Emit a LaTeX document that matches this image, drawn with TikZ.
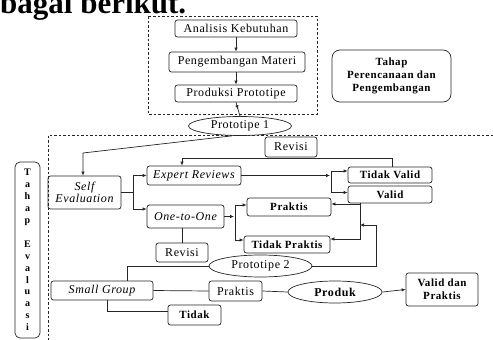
\documentclass[tikz,border=0pt]{standalone}
\usepackage{fontspec}
\setmainfont{Liberation Serif}
\newfontfamily\lsfont[LetterSpace=5]{Liberation Serif}
\usetikzlibrary{shapes.geometric,arrows.meta,decorations.markings}
\begin{document}
\begin{tikzpicture}[x=1pt,y=-1pt,
  wh/.style 2 args={minimum width=#1pt, minimum height=#2pt},
  rbox/.style={draw=black!85, line width=0.7pt, rounded corners=2.5pt, inner sep=0pt, align=center, font=\lsfont\fontsize{12}{13}\selectfont},
  bbox/.style={rbox, font=\lsfont\bfseries\fontsize{11}{13}\selectfont},
  ibox/.style={rbox, font=\lsfont\itshape\fontsize{12}{12.5}\selectfont},
  oval/.style={ellipse, draw=black!85, line width=0.7pt, inner sep=0pt, font=\lsfont\fontsize{12}{13}\selectfont},
  conn/.style={draw=black!85, line width=0.7pt},
  arr/.style={conn, -{Latex[length=4pt,width=3.5pt]}},
  dashedline/.style={draw=black!85, line width=0.7pt, dash pattern=on 2.5pt off 2pt},
  midarrow/.style={conn, decoration={markings, mark=at position #1 with {\arrow{Latex[length=4pt,width=3.5pt]}}}, postaction={decorate}},
]
\useasboundingbox (0,0) rectangle (493,340);
\fill[white] (0,0) rectangle (493,340);

% title fragment
\begin{scope}
\clip (0,0) rectangle (493,340);
\node[anchor=base west, inner sep=0pt, font=\rmfamily\bfseries\fontsize{31}{31}\selectfont] (ttl) at (0,13) {bagai berikut.};
\end{scope}

% dashed frames
\draw[dashedline] (148,16) rectangle (317,114);
\draw[dashedline] (493,135) -- (48,135) -- (48,340);

% planning stage
\node[rbox, wh={122}{17}] (ak) at (236,28.5) {Analisis Kebutuhan};
\node[rbox, wh={136}{20}] (pm) at (237,62) {Pengembangan Materi};
\node[rbox, wh={122}{17}] (pp) at (236,93.5) {Produksi Prototipe};
\node[bbox, rounded corners=8pt, wh={119}{52}] (tpp) at (391.5,76) {Tahap\\Perencanaan dan\\Pengembangan};
\node[oval, wh={103}{19}] (p1) at (240,126) {Prototipe 1};

% evaluation stage
\node[rbox, rounded corners=5pt, wh={25}{176}, font=\rmfamily\bfseries\fontsize{10}{11.9}\selectfont] (te) at (27.5,250) {T\\a\\h\\a\\p\\ \\E\\v\\a\\l\\u\\a\\s\\i};
\node[ibox, wh={73}{33}] (se) at (84.5,192.5) {Self\\Evaluation};
\node[ibox, wh={94}{19}] (er) at (194,175.5) {Expert Reviews};
\node[ibox, wh={77}{23}] (oo) at (185.5,216.5) {One-to-One};
\node[rbox, wh={52}{20}] (rv1) at (291,147) {Revisi};
\node[bbox, wh={84}{16}] (tv) at (390,175) {Tidak Valid};
\node[bbox, wh={84}{17}] (va) at (390,194.5) {Valid};
\node[bbox, wh={84}{18}] (pr1) at (289,207) {Praktis};
\node[bbox, wh={86}{17}] (tp) at (287,244.5) {Tidak Praktis};
\node[rbox, wh={52}{19}] (rv2) at (182,252.5) {Revisi};
\node[oval, wh={103}{22}] (p2) at (260.5,266) {Prototipe 2};
\node[ibox, wh={102}{19}] (sg) at (102,290.5) {Small Group};
\node[rbox, wh={53}{20}] (pr2) at (235.5,291) {Praktis};
\node[oval, wh={94}{22}, font=\lsfont\bfseries\fontsize{12}{13}\selectfont] (pd) at (335,292) {Produk};
\node[bbox, wh={72}{33}] (vp) at (442,289.5) {Valid dan\\Praktis};
\node[bbox, wh={53}{20}] (td) at (194.5,315) {Tidak};

% junction points
\coordinate (j0) at (83,153);
\coordinate (f1) at (133,192.5);
\coordinate (f2) at (331,175.5);
\coordinate (fb) at (392,158);
\coordinate (f3) at (235,216.5);
\coordinate (f5) at (376,225);
\coordinate (f6) at (360,225);

% connectors (planning)
\draw[arr] (ak.south) -- (ak.south |- pm.north);
\draw[arr] (pm.south -| pp.north) -- (pp.north);
\draw[midarrow=0.5] (pp.south) -- (p1.north);

% connectors (evaluation)
\draw[arr] ([xshift=-8pt]p1.south) -- (j0) -- (j0 |- se.north);
\draw[conn] (se.east) -- (f1);
\draw[arr] (f1) |- (er.west);
\draw[arr] (f1) |- ([yshift=7.5pt]oo.west);
\draw[arr] (er.east) -- ([xshift=-1pt]f2);
\draw[arr] (f2) |- ([yshift=4pt]tv.west);
\draw[arr] (f2) |- ([yshift=2pt]va.west);
\draw[arr] ([xshift=2pt]tv.north) -- (fb) -| ([xshift=-12pt]er.north);
\draw[arr] (oo.east) -- ([xshift=-1pt]f3);
\draw[arr] (f3) |- ([yshift=2pt]pr1.west);
\draw[arr] (f3) |- ([yshift=4.5pt]tp.west);
\draw[arr] ([xshift=-30pt]va.south) |- ([yshift=3pt]pr1.east);
\draw[arr] ([xshift=-30pt]va.south) |- ([yshift=5.5pt]tp.east);
\draw[arr] (p2.east) -| (f5) -- (f6);
\draw[conn] (rv2.north) -- (rv2.north |- oo.south);
\draw[conn] (p2.west) -| ([xshift=25pt]sg.north);
\draw[conn] (sg.east) -- (pr2.west);
\draw[conn] (pr2.east) -- (pd.west);
\draw[arr] (pd.east) -- (vp.west);
\draw[conn] ([xshift=5pt]sg.south) |- ([yshift=4pt]td.west);
\end{tikzpicture}
\end{document}
